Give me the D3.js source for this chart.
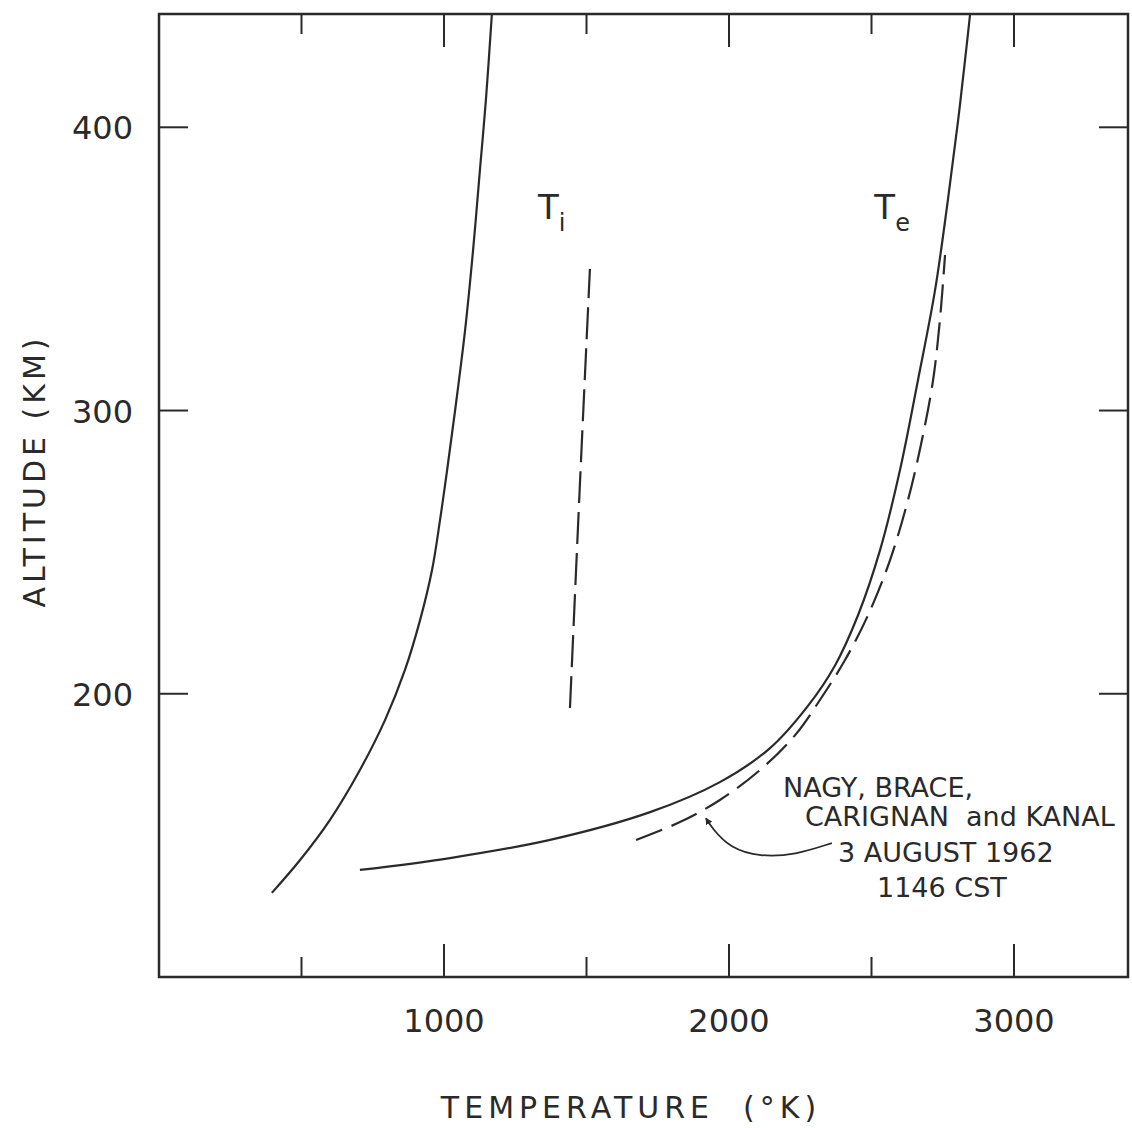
<!DOCTYPE html>
<html>
<head>
<meta charset="utf-8">
<script src="https://cdn.jsdelivr.net/npm/d3@7"></script>
<style>
body{margin:0;background:#fff}
svg{display:block}
text{font-family:"DejaVu Sans",sans-serif;fill:#2a2a2a}
</style>
</head>
<body>
<svg id="chart" width="1132" height="1128"></svg>
<script>
// [temperature K, altitude km]
let tiModel=[[396,129.7],[495,141.3],[600,155.5],[705,173.1],[793,190.7],[863,208.4],[916,226],[958,243.7],[986,261.3],[1011,279],[1039,300.1],[1074,328.4],[1102,356.6],[1126,384.9],[1147,409.6],[1168,440]]
let teModel=[[705,137.8],[1021,142],[1372,148.4],[1723,158.2],[1968,168.8],[2144,180.8],[2277,195.7],[2372,210],[2453,227.8],[2530,250.7],[2600,279],[2663,310.7],[2723,342.5],[2768,374.3],[2804,402.5],[2832,427.2],[2846,440]]
let teMeasured=[[1674,148.4],[1828,154.7],[1968,162.5],[2109,173.1],[2232,185.4],[2319,197.8],[2407,211.9],[2488,227.8],[2565,247.2],[2628,268.4],[2677,289.6],[2716,310.7],[2740,331.9],[2758,354.9]]
let tiMeasured=[[1442,195],[1476,272],[1512,350]]
let arrowPath=[[2361,147.3],[2232,143.1],[2109,142.4],[2004,145.5],[1940,152.6],[1919,156.1]]

let xTicks=[500,1000,1500,2000,2500,3000]
let xLabels=[1000,2000,3000]
let yTicks=[200,300,400]
let noteLines=["NAGY, BRACE,","CARIGNAN  and KANAL","3 AUGUST 1962","1146 CST"]

let svg=d3.select("#chart")
let x=d3.scaleLinear().domain([0,3400]).range([159,1128])
let y=d3.scaleLinear().domain([100,440]).range([977,14])
let ink="#2a2a2a"

// frame
svg.append("rect")
.attr("x",x(0)).attr("y",y(440))
.attr("width",x(3400)-x(0)).attr("height",y(100)-y(440))
.attr("fill","none").attr("stroke",ink).attr("stroke-width",2.5)

// ticks
xTicks.forEach(t=>{
let len=t%1000===0?33:20
svg.append("line").attr("x1",x(t)).attr("x2",x(t))
.attr("y1",y(100)).attr("y2",y(100)-len)
.attr("stroke",ink).attr("stroke-width",2)
svg.append("line").attr("x1",x(t)).attr("x2",x(t))
.attr("y1",y(440)).attr("y2",y(440)+len)
.attr("stroke",ink).attr("stroke-width",2)
})
yTicks.forEach(t=>{
svg.append("line").attr("x1",x(0)).attr("x2",x(0)+29)
.attr("y1",y(t)).attr("y2",y(t))
.attr("stroke",ink).attr("stroke-width",2)
svg.append("line").attr("x1",x(3400)).attr("x2",x(3400)-29)
.attr("y1",y(t)).attr("y2",y(t))
.attr("stroke",ink).attr("stroke-width",2)
})

// tick labels
xLabels.forEach(t=>{
svg.append("text").attr("x",x(t)).attr("y",y(100)+55)
.attr("text-anchor","middle").attr("font-size",32)
.text(t)
})
yTicks.forEach(t=>{
svg.append("text").attr("x",133).attr("y",y(t)+12)
.attr("text-anchor","end").attr("font-size",32)
.text(t)
})

// axis titles
svg.append("text").attr("x",631).attr("y",1118)
.attr("text-anchor","middle").attr("font-size",30)
.attr("letter-spacing",5).style("white-space","pre")
.text("TEMPERATURE  (°K)")
svg.append("text")
.attr("transform","translate(45,471) rotate(-90)")
.attr("text-anchor","middle").attr("font-size",30)
.attr("letter-spacing",4)
.text("ALTITUDE (KM)")

// curves
let line=d3.line().x(d=>x(d[0])).y(d=>y(d[1])).curve(d3.curveCatmullRom)
let curves=[[tiModel,null],[teModel,null],[teMeasured,"28,10"],[tiMeasured,"32,9"]]
curves.forEach(([data,dash])=>{
svg.append("path").datum(data).attr("d",line)
.attr("fill","none").attr("stroke",ink).attr("stroke-width",2.2)
.attr("stroke-dasharray",dash)
})

// curve labels
let tLabel=(t,alt,sub)=>{
let tx=svg.append("text").attr("x",x(t)).attr("y",y(alt)).attr("font-size",34)
tx.append("tspan").text("T")
tx.append("tspan").attr("font-size",24).attr("dy",12).text(sub)
}
tLabel(1330,367.5,"i")
tLabel(2510,367.5,"e")

// annotation
svg.append("defs").append("marker")
.attr("id","arr").attr("viewBox","0 -5 10 10")
.attr("refX",9).attr("refY",0)
.attr("markerWidth",7).attr("markerHeight",7)
.attr("markerUnits","userSpaceOnUse").attr("orient","auto")
.append("path").attr("d","M0,-5L10,0L0,5Z").attr("fill",ink)
svg.append("path").datum(arrowPath)
.attr("d",d3.line().x(d=>x(d[0])).y(d=>y(d[1])).curve(d3.curveBasis))
.attr("fill","none").attr("stroke",ink).attr("stroke-width",1.8)
.attr("marker-end","url(#arr)")

let noteX=[783,805,838,877]
let noteY=[797,826,862,897]
noteLines.forEach((s,i)=>{
svg.append("text").attr("x",noteX[i]).attr("y",noteY[i])
.attr("font-size",27).style("white-space","pre")
.text(s)
})
</script>
</body>
</html>
